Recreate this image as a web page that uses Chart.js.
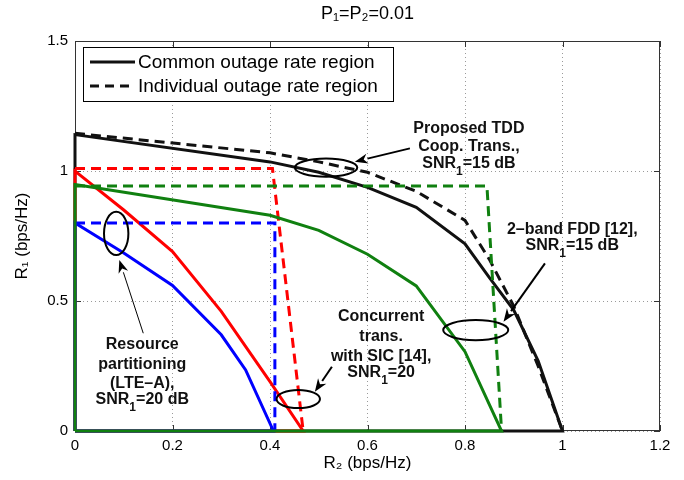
<!DOCTYPE html>
<html><head><meta charset="utf-8">
<script src="https://cdn.jsdelivr.net/npm/chart.js@4.4.1/dist/chart.umd.min.js"></script>
<style>html,body{margin:0;padding:0;background:#fff;}</style>
</head><body>
<canvas id="c" width="684" height="480"></canvas>
<script>
const FONT = '"Liberation Sans", Arial, Helvetica, sans-serif';

// Tick values / labels
const xTicks = [0, 0.2, 0.4, 0.6, 0.8, 1, 1.2];
const xTickLabels = ['0', '0.2', '0.4', '0.6', '0.8', '1', '1.2'];
const yTicks = [0, 0.5, 1, 1.5];
const yTickLabels = ['0', '0.5', '1', '1.5'];

// Proposed TDD Coop. Trans. (black)
const tddCommonR2 = [0, 0, 0.4, 0.5, 0.6, 0.7, 0.8, 0.85, 0.9, 0.95, 1.0, 0];
const tddCommonR1 = [0, 1.14, 1.035, 0.995, 0.937, 0.86, 0.72, 0.59, 0.465, 0.27, 0, 0];
const tddIndivR2 = [0, 0.4, 0.5, 0.6, 0.7, 0.8, 0.85, 0.9, 0.95, 1.0];
const tddIndivR1 = [1.145, 1.07, 1.035, 0.995, 0.922, 0.81, 0.66, 0.48, 0.25, 0];

// Concurrent trans. with SIC (red)
const sicCommonR2 = [0, 0, 0.1, 0.2, 0.3, 0.4, 0.468, 0];
const sicCommonR1 = [0, 1.0, 0.85, 0.69, 0.46, 0.19, 0, 0];
const sicIndivR2 = [0, 0.405, 0.468];
const sicIndivR1 = [1.01, 1.01, 0];

// Resource partitioning LTE-A (blue)
const rpCommonR2 = [0, 0, 0.1, 0.2, 0.3, 0.35, 0.407, 0];
const rpCommonR1 = [0, 0.80, 0.685, 0.56, 0.37, 0.235, 0, 0];
const rpIndivR2 = [0, 0.41, 0.41];
const rpIndivR1 = [0.80, 0.80, 0];

// 2-band FDD (green)
const fddCommonR2 = [0, 0, 0.4, 0.5, 0.6, 0.7, 0.8, 0.875, 0];
const fddCommonR1 = [0, 0.948, 0.83, 0.772, 0.68, 0.558, 0.305, 0, 0];
const fddIndivR2 = [0, 0.845, 0.875];
const fddIndivR1 = [0.942, 0.942, 0];

// Legend labels
const legendLabels = ['Common outage rate region', 'Individual outage rate region'];

// Annotations (data coordinates)
const noteTexts = [
  ['Proposed TDD', 'Coop. Trans.,', 'SNR_1=15 dB'],
  ['2–band FDD [12],', 'SNR_1=15 dB'],
  ['Concurrent', 'trans.', 'with SIC [14],', 'SNR_1=20'],
  ['Resource', 'partitioning', '(LTE–A),', 'SNR_1=20 dB']
];
const noteX = [0.808, 1.02, 0.628, 0.138];
const noteY = [[1.165, 1.092, 1.027], [0.773, 0.713], [0.44, 0.363, 0.286, 0.225], [0.331, 0.254, 0.183, 0.119]];
const ellipseCX = [0.515, 0.822, 0.458, 0.0845];
const ellipseCY = [1.013, 0.388, 0.123, 0.760];
const ellipseRX = [0.064, 0.0667, 0.0445, 0.025];
const ellipseRY = [0.035, 0.0385, 0.035, 0.083];
const arrowFrom = [[0.687, 1.087], [0.964, 0.645], [0.527, 0.247], [0.140, 0.376]];
const arrowTo = [[0.574, 1.036], [0.879, 0.420], [0.492, 0.151], [0.0909, 0.658]];
const arrowWidth = [2, 2, 2, 1];

const pts = (xs, ys) => xs.map((x, i) => ({x: x, y: ys[i]}));
const DASH = [10, 6];
function ds(label, xs, ys, color, dashed, order) {
  return {
    label: label, data: pts(xs, ys), showLine: true, borderColor: color, backgroundColor: color,
    borderWidth: 3, borderDash: dashed ? DASH : [], pointRadius: 0, pointHoverRadius: 0,
    tension: 0, fill: false, order: order, clip: false
  };
}
const BLACK = '#111111', RED = '#ff0000', BLUE = '#0000ff', GREEN = '#108010';
const datasets = [
  ds('TDD common', tddCommonR2, tddCommonR1, BLACK, false, 7),
  ds('TDD individual', tddIndivR2, tddIndivR1, BLACK, true, 6),
  ds('SIC common', sicCommonR2, sicCommonR1, RED, false, 5),
  ds('SIC individual', sicIndivR2, sicIndivR1, RED, true, 4),
  ds('RP common', rpCommonR2, rpCommonR1, BLUE, false, 3),
  ds('RP individual', rpIndivR2, rpIndivR1, BLUE, true, 2),
  ds('FDD individual', fddIndivR2, fddIndivR1, GREEN, true, 1),
  ds('FDD common', fddCommonR2, fddCommonR1, GREEN, false, 0)
];

function drawRich(ctx, str, cx, cy, size, bold) {
  const w8 = bold ? 'bold ' : '';
  const main = w8 + size + 'px ' + FONT;
  const sub = w8 + Math.round(size * 0.75) + 'px ' + FONT;
  const parts = [];
  str.split(/_(\d)/).forEach((t, i) => { if (t) parts.push({t: t, sub: i % 2 === 1}); });
  let w = 0;
  parts.forEach(p => { ctx.font = p.sub ? sub : main; w += ctx.measureText(p.t).width; });
  let xx = cx - w / 2;
  ctx.textAlign = 'left'; ctx.textBaseline = 'middle';
  parts.forEach(p => {
    ctx.font = p.sub ? sub : main;
    ctx.fillText(p.t, xx, cy + (p.sub ? size * 0.5 : 0));
    xx += ctx.measureText(p.t).width;
  });
}

const frame = {
  id: 'frame',
  beforeDatasetsDraw(chart) {
    const {ctx, chartArea: a, scales: {x, y}} = chart;
    ctx.save();
    ctx.setLineDash([]);
    ctx.strokeStyle = '#333'; ctx.lineWidth = 1;
    ctx.strokeRect(a.left + 0.5, a.top + 0.5, a.right - a.left - 1, a.bottom - a.top - 1);
    ctx.beginPath();
    xTicks.forEach(v => {
      const px = Math.round(x.getPixelForValue(v)) + 0.5;
      ctx.moveTo(px, a.bottom); ctx.lineTo(px, a.bottom - 6);
      ctx.moveTo(px, a.top); ctx.lineTo(px, a.top + 6);
    });
    yTicks.forEach(v => {
      const py = Math.round(y.getPixelForValue(v)) + 0.5;
      ctx.moveTo(a.left, py); ctx.lineTo(a.left + 6, py);
      ctx.moveTo(a.right, py); ctx.lineTo(a.right - 6, py);
    });
    ctx.stroke();
    ctx.restore();
  },
  afterDatasetsDraw(chart) {
    const {ctx, chartArea: a, scales: {x, y}} = chart;
    ctx.save();
    ctx.setLineDash([]);
    // Legend box
    const lx = a.left + 8, ly = a.top + 6, lw = 310, lh = 54;
    ctx.fillStyle = '#fff';
    ctx.fillRect(lx, ly, lw, lh);
    ctx.strokeStyle = '#000'; ctx.lineWidth = 1;
    ctx.strokeRect(lx + 0.5, ly + 0.5, lw, lh);
    ctx.lineWidth = 3; ctx.strokeStyle = BLACK;
    [false, true].forEach((dashed, i) => {
      const yy = ly + 15 + i * 24;
      ctx.setLineDash(dashed ? [9, 6] : []);
      ctx.beginPath(); ctx.moveTo(lx + 7, yy); ctx.lineTo(lx + 52, yy); ctx.stroke();
      ctx.setLineDash([]);
      ctx.fillStyle = '#000'; ctx.font = '19px ' + FONT;
      ctx.textAlign = 'left'; ctx.textBaseline = 'middle';
      ctx.fillText(legendLabels[i], lx + 55, yy + 1);
    });
    // Ellipses
    ctx.strokeStyle = '#000'; ctx.lineWidth = 2;
    ellipseCX.forEach((cx, i) => {
      const px = x.getPixelForValue(cx), py = y.getPixelForValue(ellipseCY[i]);
      const rx = x.getPixelForValue(cx + ellipseRX[i]) - px;
      const ry = py - y.getPixelForValue(ellipseCY[i] + ellipseRY[i]);
      ctx.beginPath(); ctx.ellipse(px, py, rx, ry, 0, 0, Math.PI * 2); ctx.stroke();
    });
    // Arrows
    arrowFrom.forEach((f, i) => {
      const x1 = x.getPixelForValue(f[0]), y1 = y.getPixelForValue(f[1]);
      const x2 = x.getPixelForValue(arrowTo[i][0]), y2 = y.getPixelForValue(arrowTo[i][1]);
      const ang = Math.atan2(y2 - y1, x2 - x1);
      const hl = 13, hw = 5;
      const bx = x2 - hl * Math.cos(ang), by = y2 - hl * Math.sin(ang);
      ctx.lineWidth = arrowWidth[i]; ctx.strokeStyle = '#000'; ctx.fillStyle = '#000';
      ctx.beginPath(); ctx.moveTo(x1, y1); ctx.lineTo(bx, by); ctx.stroke();
      ctx.beginPath();
      ctx.moveTo(x2, y2);
      ctx.lineTo(bx + hw * Math.sin(ang), by - hw * Math.cos(ang));
      ctx.lineTo(x2 - hl * 0.7 * Math.cos(ang), y2 - hl * 0.7 * Math.sin(ang));
      ctx.lineTo(bx - hw * Math.sin(ang), by + hw * Math.cos(ang));
      ctx.closePath(); ctx.fill();
    });
    // Texts
    ctx.fillStyle = '#111';
    noteTexts.forEach((lines, i) => {
      const cx = x.getPixelForValue(noteX[i]);
      lines.forEach((t, j) => drawRich(ctx, t, cx, y.getPixelForValue(noteY[i][j]), 16, true));
    });
    ctx.restore();
  }
};

new Chart(document.getElementById('c'), {
  type: 'scatter',
  data: {datasets: datasets},
  options: {
    responsive: false, animation: false, devicePixelRatio: 1,
    layout: {padding: {left: 0, right: 24, top: 0, bottom: 0}},
    plugins: {
      legend: {display: false},
      tooltip: {enabled: false},
      title: {
        display: true, text: 'P₁=P₂=0.01', fullSize: false, color: '#000',
        font: {size: 18, weight: 'normal', family: FONT, lineHeight: 1.2},
        padding: {top: 3, bottom: 16.4}
      }
    },
    scales: {
      x: {
        type: 'linear', min: 0, max: 1.2,
        afterFit(s) { s.height = 49; },
        afterBuildTicks(s) { s.ticks = xTicks.map(v => ({value: v})); },
        ticks: {
          callback: v => xTickLabels[xTicks.indexOf(v)],
          font: {size: 15, family: FONT}, color: '#000', padding: 6, maxRotation: 0, autoSkip: false
        },
        grid: {color: '#9a9a9a', lineWidth: 1, drawTicks: false},
        border: {display: false, dash: [1, 3]},
        title: {display: true, text: 'R₂ (bps/Hz)', color: '#000', font: {size: 17, family: FONT, lineHeight: 1.2}, padding: {top: 0, bottom: 6}}
      },
      y: {
        type: 'linear', min: 0, max: 1.5,
        afterFit(s) { s.width = 75; },
        afterBuildTicks(s) { s.ticks = yTicks.map(v => ({value: v})); },
        ticks: {
          callback: v => yTickLabels[yTicks.indexOf(v)],
          font: {size: 15, family: FONT}, color: '#000', padding: 7
        },
        grid: {color: '#9a9a9a', lineWidth: 1, drawTicks: false},
        border: {display: false, dash: [1, 3]},
        title: {display: true, text: 'R₁ (bps/Hz)', color: '#000', font: {size: 17, family: FONT, lineHeight: 1.2}, padding: {top: 12, bottom: 0}}
      }
    }
  },
  plugins: [frame]
});
</script>
</body></html>
